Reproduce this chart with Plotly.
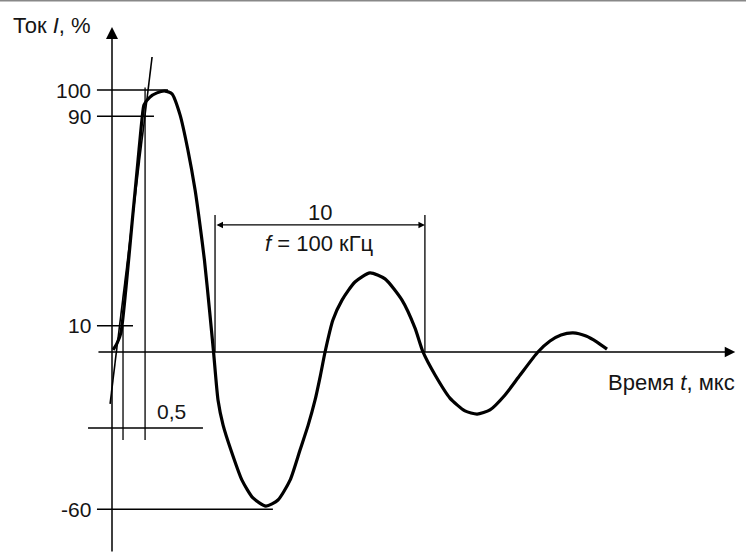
import plotly.graph_objects as go

# ---- data (time in µs-like schematic units, current in %) ----
t_curve = [0.05, 0.24, 0.42, 0.65, 0.96, 1.23, 1.41, 1.51, 1.79, 2.12, 2.50, 2.83, 3.21, 3.58,
           3.92, 4.15, 4.36, 4.60, 4.79, 5.00, 5.24, 5.61, 6.13, 6.65, 7.26, 7.83, 8.40, 8.87,
           9.25, 9.58, 9.83, 10.05, 10.42, 10.85, 11.46, 12.17, 12.88, 13.68, 14.29, 14.67,
           15.24, 15.94, 16.65, 17.22, 17.83, 18.54, 19.25, 20.09, 20.66, 21.18, 21.75, 22.36,
           22.88, 23.35]
i_curve = [0.8, 3.4, 7.3, 23.7, 50.4, 73.3, 88.5, 94.3, 97.3, 98.9, 99.6, 98.5, 90.5, 77.1,
           61.8, 48.5, 35.1, 16.0, 0.0, -18.3, -27.9, -37.4, -48.9, -55.7, -58.8, -56.5, -48.9,
           -37.4, -28.0, -18.3, -9.0, 0.0, 12.2, 19.8, 26.7, 30.2, 27.9, 19.8, 9.2, 0.0,
           -8.8, -17.6, -22.5, -23.7, -22.1, -16.4, -8.8, 0.0, 4.2, 6.5, 7.3, 6.1,
           3.8, 1.1]

y_tick_vals = [100, 90, 10, -60]
y_tick_text = ["100", "90", "10", "-60"]
y_tick_ends = [2.64, 1.98, 0.99, 7.59]     # where each level line ends (time)

tangent_t = [-0.09, 1.89]
tangent_i = [-19.8, 112.6]

rise_marks_t = [0.52, 1.56]                 # 0.5 µs rise-time markers
rise_marks_top = [10, 101]
rise_level = -29                            # level of the 0,5 dimension
rise_level_span = [-1.13, 4.29]

period_t = [4.86, 14.76]                    # one period = 10 µs
period_level = 48.5
period_label = "10"
freq_label = "<i>f</i> = 100 кГц"

x_range = [-5.283, 29.906]
y_range = [-76.72, 134.35]

FONT = "Liberation Sans, Arial, sans-serif"
TICK = dict(family=FONT, size=21, color="#151515")
TXT = dict(family=FONT, size=22, color="#151515")
fig = go.Figure()

# main waveform
fig.add_trace(go.Scatter(x=t_curve, y=i_curve, mode="lines",
                         line=dict(color="black", width=3.2, shape="spline", smoothing=0.6),
                         hoverinfo="skip", showlegend=False))

shapes = []
annotations = []

# level lines + tick labels
for v, txt, te in zip(y_tick_vals, y_tick_text, y_tick_ends):
    shapes.append(dict(type="line", x0=-0.71, x1=te, y0=v, y1=v,
                       line=dict(color="black", width=1.6)))
    annotations.append(dict(x=-0.9, y=v, text=txt, showarrow=False, xanchor="right",
                            yanchor="middle", font=TICK))

# tangent (rise) line
shapes.append(dict(type="line", x0=tangent_t[0], x1=tangent_t[1], y0=tangent_i[0], y1=tangent_i[1],
                   line=dict(color="black", width=1.6)))

# rise time markers
for tt, top in zip(rise_marks_t, rise_marks_top):
    shapes.append(dict(type="line", x0=tt, x1=tt, y0=top, y1=-33.6,
                       line=dict(color="black", width=1.3)))
shapes.append(dict(type="line", x0=rise_level_span[0], x1=rise_level_span[1],
                   y0=rise_level, y1=rise_level, line=dict(color="black", width=1.6)))
annotations.append(dict(x=2.80, y=-22.9, text="0,5", showarrow=False, font=TICK))

# period dimension
for pt in period_t:
    shapes.append(dict(type="line", x0=pt, x1=pt, y0=52.3, y1=0,
                       line=dict(color="black", width=1.3)))
annotations.append(dict(x=period_t[1], y=period_level, ax=period_t[0], ay=period_level,
                        axref="x", ayref="y", xref="x", yref="y", showarrow=True,
                        arrowhead=2, startarrowhead=2, arrowside="end+start",
                        arrowsize=1, arrowwidth=1.3, arrowcolor="black", text=""))
mid = (period_t[0] + period_t[1]) / 2
annotations.append(dict(x=mid, y=53.4, text=period_label, showarrow=False, font=TXT))
annotations.append(dict(x=mid, y=41.6, text=freq_label, showarrow=False, font=TXT))

# axes with arrows
annotations.append(dict(x=0, y=124, ax=0, ay=y_range[0], axref="x", ayref="y",
                        xref="x", yref="y", showarrow=True, arrowhead=2, arrowsize=1.6,
                        arrowwidth=1.5, arrowcolor="black", text=""))
annotations.append(dict(x=29.4, y=0, ax=-0.71, ay=0, axref="x", ayref="y",
                        xref="x", yref="y", showarrow=True, arrowhead=2, arrowsize=1.4,
                        arrowwidth=1.5, arrowcolor="black", text=""))

# axis titles
annotations.append(dict(x=-2.85, y=124.8, text="Ток <i>I</i>, %", showarrow=False, font=TXT))
annotations.append(dict(x=26.4, y=-11.5, text="Время <i>t</i>, мкс", showarrow=False, font=TXT))

# top border of the scan
shapes.append(dict(type="line", xref="paper", yref="paper", x0=0, x1=1, y0=1, y1=1,
                   line=dict(color="#888", width=3)))

fig.update_layout(
    width=746, height=553,
    margin=dict(l=0, r=0, t=0, b=0),
    paper_bgcolor="white", plot_bgcolor="white",
    xaxis=dict(range=x_range, visible=False, fixedrange=True),
    yaxis=dict(range=y_range, visible=False, fixedrange=True),
    shapes=shapes, annotations=annotations,
    showlegend=False,
)

fig.write_html("out.html", config={"displayModeBar": False},
               post_script="document.body.style.margin='0';document.body.style.padding='0';"
                           "document.body.style.overflow='hidden';")
